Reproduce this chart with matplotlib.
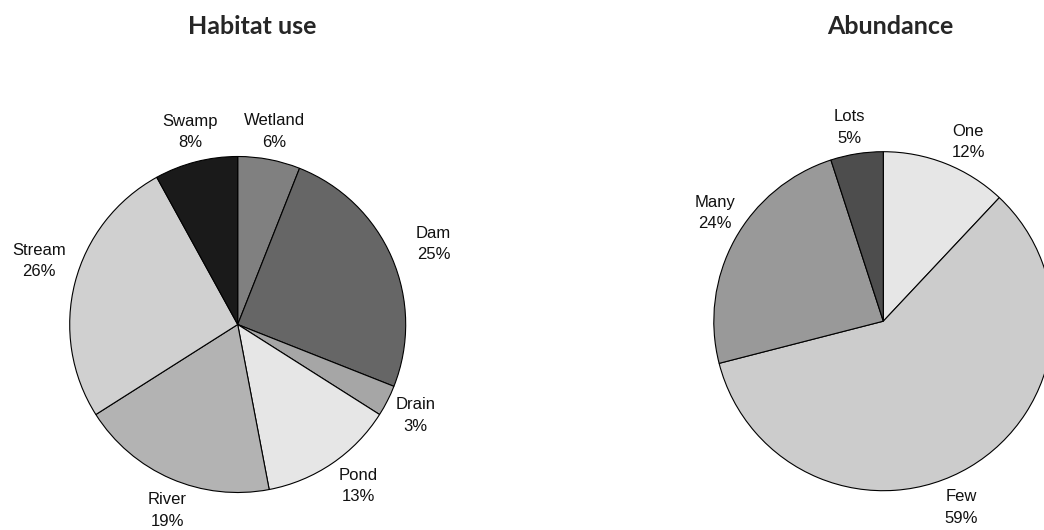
import matplotlib
matplotlib.use("Agg")
import matplotlib.pyplot as plt
import numpy as np

# Habitat use shares (%)
habitat_labels = ["Wetland", "Dam", "Drain", "Pond", "River", "Stream", "Swamp"]
habitat_values = [6, 25, 3, 13, 19, 26, 8]
habitat_colors = ["#808080", "#666666", "#a6a6a6", "#e6e6e6", "#b3b3b3", "#d0d0d0", "#1a1a1a"]

# Abundance shares (%)
abundance_labels = ["One", "Few", "Many", "Lots"]
abundance_values = [12, 59, 24, 5]
abundance_colors = ["#e6e6e6", "#cccccc", "#999999", "#4d4d4d"]

# label layout: radial distance (in pie radii) and angular nudge (degrees)
habitat_label_r = [1.17, 1.26, 1.19, 1.20, 1.185, 1.24, 1.18]
habitat_label_nudge = [0, -1, 0, 2.5, 2.7, -3.3, -0.5]
abundance_label_r = [1.17, 1.19, 1.18, 1.16]
abundance_label_nudge = [-3.8, -8, -4, 1]

W, H = 1044, 530
fig = plt.figure(figsize=(W / 100, H / 100), dpi=100)

label_font = dict(family=["Liberation Sans", "DejaVu Sans"], fontsize=12, color="#111111")
title_font = dict(family=["Lato", "DejaVu Sans"], fontsize=18, fontweight="bold", color="#262626")


def draw_pie(cx, cy, r, values, labels, colors, lab_r, lab_nudge, title, title_x):
    ax = fig.add_axes([(cx - r) / W, (H - cy - r) / H, 2 * r / W, 2 * r / H])
    wedges, _ = ax.pie(values, colors=colors, startangle=90, counterclock=False,
                       radius=1, frame=False,
                       wedgeprops=dict(edgecolor="black", linewidth=0.8))
    for w in wedges:
        w.set_clip_on(False)
    total = float(sum(values))
    for w, lab, v, rr, dn in zip(wedges, labels, values, lab_r, lab_nudge):
        mid = np.deg2rad((w.theta1 + w.theta2) / 2 + dn)
        ax.text(rr * np.cos(mid), rr * np.sin(mid), f"{lab}\n{v / total * 100:.0f}%",
                ha="center", va="center", linespacing=1.55, **label_font)
    ax.set_xlim(-1, 1)
    ax.set_ylim(-1, 1)
    ax.set_aspect("equal")
    ax.axis("off")
    fig.text(title_x / W, 1 - 27 / H, title, ha="center", va="center", **title_font)


draw_pie(237.7, 324.5, 168, habitat_values, habitat_labels, habitat_colors,
         habitat_label_r, habitat_label_nudge, "Habitat use", 252)
draw_pie(883.3, 321.2, 169.5, abundance_values, abundance_labels, abundance_colors,
         abundance_label_r, abundance_label_nudge, "Abundance", 890.5)

fig.savefig("out.png", dpi=100, facecolor="white")
